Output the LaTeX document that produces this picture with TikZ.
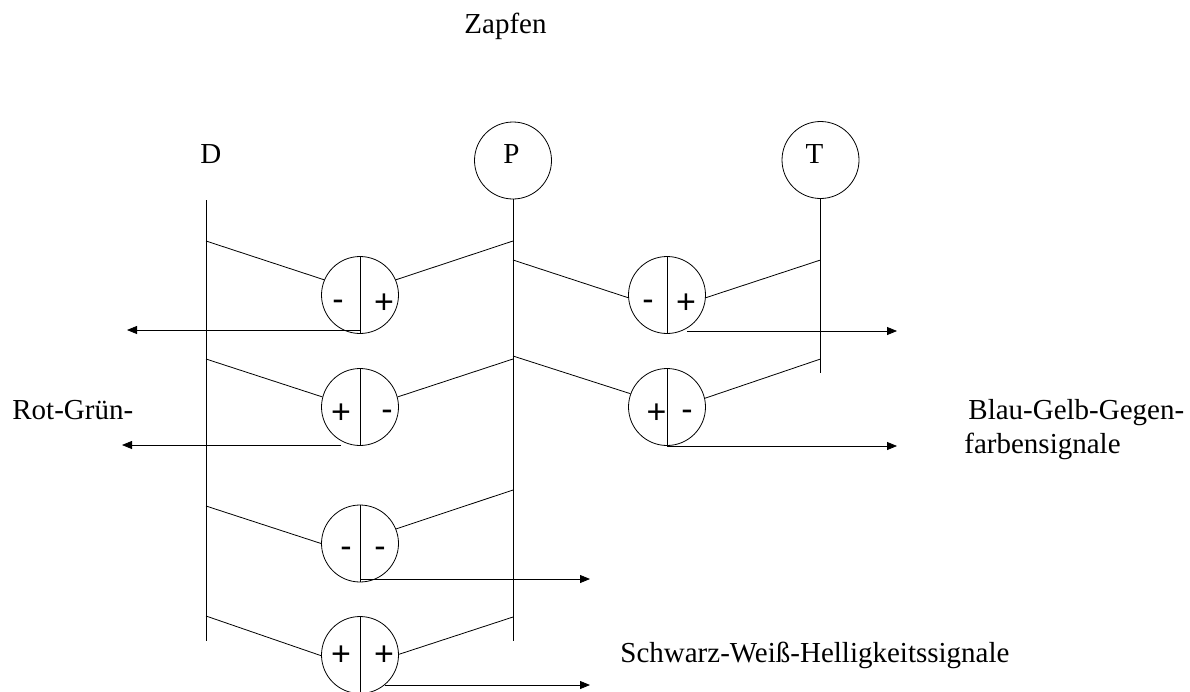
\documentclass[tikz,border=0pt]{standalone}
\usepackage{fontspec}
\setmainfont{Liberation Serif}
\newfontfamily\signfont{Liberation Sans}
\usetikzlibrary{arrows.meta}
\begin{document}
\begin{tikzpicture}[x=1pt,y=-1pt,line width=0.8pt,
  txt/.style={font=\fontsize{29}{34}\selectfont, inner sep=0pt, anchor=base west},
  lbl/.style={font=\fontsize{29}{34}\selectfont, inner sep=0pt, anchor=base},
  cone/.style={circle, draw, minimum size=77pt, inner sep=0pt},
  unit/.style={circle, draw, minimum size=77pt, inner sep=0pt},
  sgn/.style={font=\signfont\fontsize{34}{34}\selectfont, inner sep=0pt, anchor=base},
  psgn/.style={sgn, yshift=-12.2pt},
  msgn/.style={sgn, yshift=-9.5pt},
  arr/.style={-{Triangle[length=10pt,width=8pt]}}]
\useasboundingbox (0,0) rectangle (1190,691);

% texts
\node[txt] (zapfen) at (464,33) {Zapfen};
\node[txt] (Dlbl) at (200,163) {D};
\node[txt] (rg) at (12,419) {Rot-Grün-};
\node[txt] (bg1) at (968,419) {Blau-Gelb-Gegen-};
\node[txt] (bg2) at (964,453) {farbensignale};
\node[txt] (sw) at (620,662) {Schwarz-Weiß-Helligkeitssignale};

% cones
\node[cone] (P) at (513,160.5) {};
\node[cone] (T) at (820.5,160) {};
\node[lbl] (Plbl) at (511.5,163) {P};
\node[lbl] (Tlbl) at (814.5,163) {T};

% vertical lines
\coordinate (Dtop) at (206,200);
\coordinate (Dbot) at (206,641);
\coordinate (Pbot) at (513,641);
\coordinate (Tbot) at (820.5,373);
\draw (Dtop) -- (Dbot);
\draw (P.south) -- (Pbot);
\draw (T.south) -- (Tbot);

% units
\node[unit] (c1) at (360,295) {};
\node[unit] (c2) at (667,295) {};
\node[unit] (c3) at (360,407) {};
\node[unit] (c4) at (667,407) {};
\node[unit] (c5) at (360,543.5) {};
\node[unit] (c6) at (360,655) {};
\foreach \c in {c1,c2,c3,c4,c5,c6} {\draw (\c.north) -- (\c.south);}

% signs
\node[msgn] (c1l) at (338,301) {-};
\node[psgn] (c1r) at (384,301) {+};
\node[msgn] (c2l) at (648,301) {-};
\node[psgn] (c2r) at (686,301) {+};
\node[psgn] (c3l) at (341,411) {+};
\node[msgn] (c3r) at (387,411) {-};
\node[psgn] (c4l) at (656.5,411) {+};
\node[msgn] (c4r) at (687,411) {-};
\node[msgn] (c5l) at (346,548) {-};
\node[msgn] (c5r) at (380,548) {-};
\node[psgn] (c6l) at (341,653) {+};
\node[psgn] (c6r) at (384,653) {+};

% tap points on vertical lines
\coordinate (d1) at (206,241);
\coordinate (p1) at (513,241);
\coordinate (p2) at (513,260);
\coordinate (t2) at (820.5,260);
\coordinate (d3) at (206,359);
\coordinate (p3) at (513,359);
\coordinate (p4) at (513,356);
\coordinate (t4) at (820.5,359);
\coordinate (d5) at (206,506);
\coordinate (p5) at (513,490);
\coordinate (d6) at (206,616);
\coordinate (p6) at (513,617);

\draw (d1) -- (c1.157);  \draw (c1.23) -- (p1);
\draw (p2) -- (c2.184);  \draw (c2.-4) -- (t2);
\draw (d3) -- (c3.165);  \draw (c3.15) -- (p3);
\draw (p4) -- (c4.160);  \draw (c4.13) -- (t4);
\draw (d5) -- (c5.180);  \draw (c5.22) -- (p5);
\draw (d6) -- (c6.181);  \draw (c6.1) -- (p6);

% output arrows
\coordinate (a1s) at (360,330);   \coordinate (a1e) at (127,330);
\coordinate (a2s) at (687,331);   \coordinate (a2e) at (897,331);
\coordinate (a3s) at (341,445);   \coordinate (a3e) at (122,445);
\coordinate (a4s) at (667,446);   \coordinate (a4e) at (897,446);
\coordinate (a5s) at (360,579);   \coordinate (a5e) at (590,579);
\coordinate (a6s) at (385,685);   \coordinate (a6e) at (590,685);
\draw[arr] (a1s) -- (a1e);
\draw[arr] (a2s) -- (a2e);
\draw[arr] (a3s) -- (a3e);
\draw[arr] (a4s) -- (a4e);
\draw[arr] (a5s) -- (a5e);
\draw[arr] (a6s) -- (a6e);
\end{tikzpicture}
\end{document}
